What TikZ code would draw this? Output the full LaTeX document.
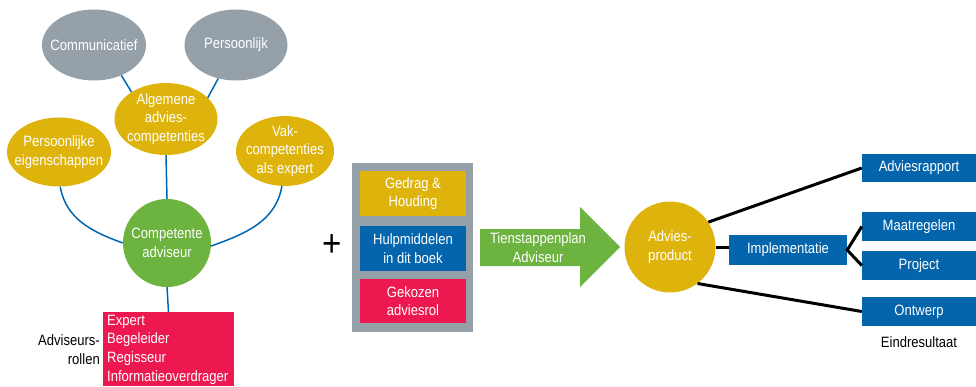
\documentclass[tikz,border=0pt]{standalone}
\usepackage{fontspec}
\setmainfont{Liberation Sans}[FakeStretch=0.87]
\usetikzlibrary{shapes.geometric}
\definecolor{cgray}{RGB}{149,160,168}
\definecolor{cgold}{RGB}{222,180,12}
\definecolor{cgreen}{RGB}{109,179,63}
\definecolor{cblue}{RGB}{4,101,172}
\definecolor{cred}{RGB}{237,24,80}
\definecolor{cline}{RGB}{0,102,178}
\begin{document}
\begin{tikzpicture}[x=1pt,y=1pt,
  every node/.style={font=\fontsize{15}{18.7}\selectfont},
  ell/.style={ellipse, inner sep=0pt},
  grayell/.style={ell, fill=cgray},
  goldell/.style={ell, fill=cgold},
  wtxt/.style={text=white, align=center, inner sep=0pt},
  box/.style={rectangle, inner sep=0pt, text=white, align=center},
  blueline/.style={draw=cline, line width=1.5pt},
  blackline/.style={draw=black, line width=3pt}
]
\useasboundingbox (0,0) rectangle (976,-386);

% top ellipses
\node[grayell, minimum width=104, minimum height=71] (comm) at (94,-45) {};
\node[wtxt] at (comm.center) {Communicatief};
\node[grayell, minimum width=103, minimum height=71] (pers) at (236,-45) {};
\node[wtxt] at (pers.center) {Persoonlijk};
\node[goldell, minimum width=103, minimum height=72] (alg) at (166,-119) {};
\node[wtxt] at (alg.center) {Algemene\\advies-\\competenties};
\node[goldell, minimum width=104, minimum height=69] (peig) at (59,-152) {};
\node[wtxt] at (peig.center) {Persoonlijke\\eigenschappen};
\node[goldell, minimum width=98, minimum height=70] (vak) at (285,-151) {};
\node[wtxt] at (vak.center) {Vak-\\competenties\\als expert};
\node[circle, fill=cgreen, minimum size=88, inner sep=0pt] (comp) at (167,-243) {};
\node[wtxt] at (comp.center) {Competente\\adviseur};

% roles
\node[rectangle, fill=cred, minimum width=131, minimum height=74, inner sep=0pt] (roles) at (168.5,-349) {};
\node[text=white, align=left, inner sep=0pt, anchor=west] (rolestxt) at (107,-349.5) {Expert\\Begeleider\\Regisseur\\Informatieoverdrager};
\node[align=right, inner sep=0pt, anchor=east] (rollab) at (100,-349.5) {Adviseurs-\\rollen};

% blue connectors
\draw[blueline] (comm.-48) -- (alg.142);
\draw[blueline] (pers.-118) -- (alg.27);
\draw[blueline] (alg.south) -- (comp.north);
\draw[blueline] (peig.-88) to[out=-80, in=160] (comp.180);
\draw[blueline] (vak.-95) to[out=-100, in=20] (comp.-4);
\draw[blueline] (comp.south) -- (roles.north);

% plus
\node[inner sep=0pt, font=\fontsize{38}{38}\selectfont] (plus) at (332,-246) {+};

% gray box
\node[rectangle, fill=cgray, minimum width=121, minimum height=169, inner sep=0pt] (graybox) at (412.5,-247.5) {};
\node[box, fill=cgold, minimum width=106, minimum height=45] (gedrag) at (413,-193.5) {Gedrag \&\\Houding};
\node[box, fill=cblue, minimum width=106, minimum height=45] (hulp) at (413,-248.5) {Hulpmiddelen\\in dit boek};
\node[box, fill=cred, minimum width=106, minimum height=44] (gek) at (413,-301) {Gekozen\\adviesrol};

% big arrow
\fill[cgreen] (480,-229) -- (580,-229) -- (580,-207) -- (620,-247) -- (580,-287) -- (580,-266) -- (480,-266) -- cycle;
\node[wtxt] (tien) at (538,-247.5) {Tienstappenplan\\Adviseur};

% right part
\node[circle, fill=cgold, minimum size=91, inner sep=0pt] (ap) at (670,-247) {};
\node[wtxt] at (ap.center) {Advies-\\product};
\node[box, fill=cblue, minimum width=118, minimum height=30] (impl) at (788,-250) {Implementatie};
\node[box, fill=cblue, minimum width=114, minimum height=28] (adr) at (919,-168) {Adviesrapport};
\node[box, fill=cblue, minimum width=114, minimum height=29] (maat) at (919,-226.5) {Maatregelen};
\node[box, fill=cblue, minimum width=114, minimum height=29] (proj) at (919,-265.5) {Project};
\node[box, fill=cblue, minimum width=114, minimum height=29] (ontw) at (919,-311.5) {Ontwerp};
\node[inner sep=0pt] (eind) at (919,-342) {Eindresultaat};

% black connectors
\draw[blackline] (ap.33) -- (adr.west);
\draw[blackline] (ap.east) -- (ap.east -| impl.west);
\draw[blackline] (ap.-53) -- (ontw.west);
\draw[blackline] (maat.west) -- (impl.east) -- (proj.west);
\end{tikzpicture}
\end{document}
